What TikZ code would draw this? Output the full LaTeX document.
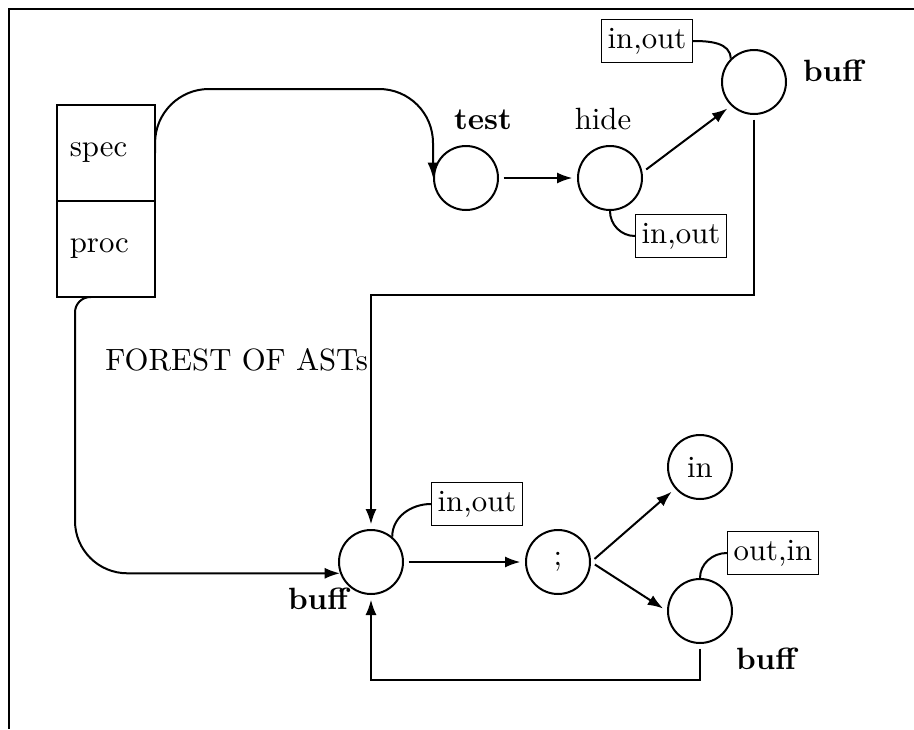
\documentclass[tikz,border=0pt]{standalone}
\usetikzlibrary{arrows.meta}
\usetikzlibrary{calc}
\usetikzlibrary{positioning}

\begin{document}
\begin{tikzpicture}[x=0.325pt,y=-0.325pt,
>={Latex[length=5pt,width=3.6pt]},line width=0.65pt,
state/.style = {circle, draw=black, minimum size=20.8pt, inner sep=0pt},
cell/.style = {rectangle, draw=black, outer sep=0pt, minimum height=31.2pt, text width=23.5pt, inner xsep=4.2pt, align=left},
tag/.style = {rectangle, draw=black, thin, inner xsep=2pt, inner ysep=2.7pt},
lbl/.style = {font=\bfseries},
arr/.style = {->, shorten >=1.5pt, shorten <=1.5pt}
]
\useasboundingbox (0,0) rectangle (914,729);
\draw (914,9) -- (9,9) -- (9,729);

\node (spec) [cell] at (106,153) {spec};
\node (proc) [cell, below=0pt of spec] {proc};

\node (test) [state] at (466,178) {};
\node (testlbl) [lbl] at (483,120) {test};
\node (hide) [state] at (610,178) {};
\node (hidelbl) at (603,119) {hide};
\node (buffA) [state] at (754,82) {};
\node (buffAlbl) [lbl] at (833,71) {buff};
\node (tagA) [tag] at (647,41) {in,out};
\node (tagH) [tag] at (681,236) {in,out};

\node (forest) [anchor=east, inner sep=0pt] at (369,360) {FOREST OF ASTs};

\node (buffB) [state] at (371,562) {};
\node (buffBlbl) [lbl] at (318,599) {buff};
\node (tagB) [tag] at (477,504) {in,out};
\node (semi) [state] at (558,562) {;};
\node (in) [state] at (700,467) {in};
\node (buffC) [state] at (700,611) {};
\node (buffClbl) [lbl] at (766,659) {buff};
\node (tagC) [tag] at (773,553) {out,in};

\coordinate (top) at (290,89);
\draw[->, rounded corners=17.5pt] (spec.east) |- (top) -| (test.west);
\draw[arr] (test) -- (hide);
\draw[arr] (hide.10) -- (buffA.226);
\draw[arr] (buffA.south) -- ++(0,180) -| (buffB.north);
\draw[->] ($(proc.south)+(-15,0)$) [rounded corners=5pt] -| ++(-16,60) [rounded corners=17pt] |- (buffB.200);

\draw[arr] (buffB) -- (semi);
\draw[arr] (semi.east) -- (in);
\draw[arr] (semi.east) -- (buffC.west);
\draw[arr] (buffC.south) -- ++(0,36) -| (buffB.south);

%\draw (tagA) -- (buffA);
\draw (tagA.east) to[out=0,in=90] (buffA.135);
\draw (hide.south) to[out=-90,in=180] (tagH.west);
\draw (buffB.50) to[out=90,in=180] (tagB.west);
\draw (buffC.north) to[out=90,in=180] (tagC.west);
\end{tikzpicture}
\end{document}
